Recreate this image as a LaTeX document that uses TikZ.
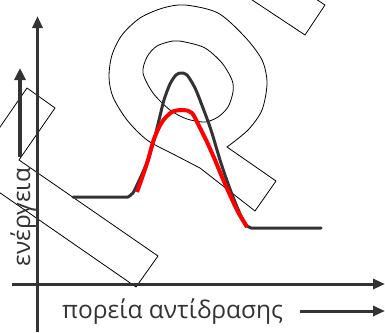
\documentclass[tikz,border=0pt]{standalone}
\usepackage{fontspec}
\setmainfont{Open Sans}
\usetikzlibrary{arrows.meta}
\definecolor{AxisGray}{RGB}{51,51,51}
\definecolor{PeakRed}{RGB}{255,0,0}

\begin{document}
\begin{tikzpicture}[x=1pt, y=-1pt,
  axis/.style={draw=AxisGray, line width=3pt, -{Triangle[length=12pt,width=10pt]}},
  smallarrow/.style={draw=AxisGray, line width=4.5pt, -{Triangle[length=12pt,width=11pt]}},
  curve/.style={draw=AxisGray, line width=3pt, line join=round, line cap=round},
  redcurve/.style={draw=PeakRed, line width=4pt, line join=round},
  outline/.style={draw=black, line width=0.8pt},
  label/.style={text=AxisGray, font=\fontsize{24.5}{28}\selectfont, inner sep=0pt}
]
\useasboundingbox (0,0) rectangle (385,332);
\clip (0,0) rectangle (385,332);

% tilted outlines
\draw[outline] (-20,156) -- (27,88) -- (55,108) -- (19,160) -- (158,256) -- (136,287)
  -- (-20,179) -- cycle;
\draw[outline] (305,35) -- (325,5) -- (245,-48) -- (225,-18) -- cycle;
\draw[outline] (255,211) -- (200,168)
  -- plot[smooth] coordinates {(200,168) (173,154) (147,140) (127,120) (113,97) (109,77)
     (112,55) (122,35) (140,18) (163,8) (185,5) (218,13) (245,37) (262,60) (267,83)
     (262,110) (248,130) (227,147)}
  -- (276,181) -- cycle;
\draw[outline] plot[smooth cycle] coordinates {(143,73) (147,57) (157,46) (173,41) (185,42)
  (205,48) (222,63) (232,80) (233,92) (228,107) (218,117) (205,122) (187,119) (170,110) (153,93)};

% axes
\coordinate (ybot) at (37.5,332);
\coordinate (ytop) at (37.5,16);
\coordinate (xleft) at (12,284);
\coordinate (xright) at (385,284);
\draw[axis] (ybot) -- (ytop);
\draw[axis] (xleft) -- (xright);

% energy curves
\draw[curve] (73,197) -- (128,197)
  -- plot[smooth] coordinates {(128,197) (133,193) (137,185) (143,172) (148,160) (154,140)
     (159,120) (164,100) (170,84) (176,75) (181,73) (187,75) (195,88) (203,108) (211,130)
     (220,160) (226,178) (233,197) (241,216) (247,226)}
  -- (251,228) -- (321,228);
\draw[redcurve] plot[smooth] coordinates {(137,192) (142,178) (148,160) (154,139) (162,122)
  (172,112) (183,110) (192,113) (200,128) (207,142) (215,160) (222,177) (230,195)
  (238,212) (247,227)};

% labels
\node[label, anchor=base west] (xlab) at (62,318) {πορεία αντίδρασης};
\node[label, rotate=90, anchor=base] (ylab) at (30,217) {ενέργεια};
\coordinate (xa0) at (300,311);
\coordinate (xa1) at (385,311);
\draw[axis] (xa0) -- (xa1);
\coordinate (ya0) at (20,157);
\coordinate (ya1) at (20,68);
\draw[smallarrow] (ya0) -- (ya1);
\end{tikzpicture}
\end{document}
